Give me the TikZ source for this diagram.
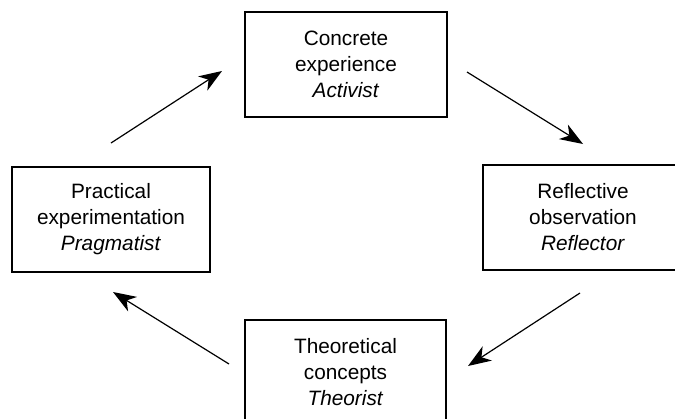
\documentclass[tikz,border=0pt]{standalone}
\usepackage{fontspec}
\setmainfont{Liberation Sans}
\usetikzlibrary{arrows.meta}
\tikzset{
  stagebox/.style={draw=black, line width=1.3pt, align=center, inner sep=0pt,
    minimum width=200pt, minimum height=105pt,
    font=\fontsize{20.8}{26}\selectfont},
  cyclearrow/.style={line width=1.2pt, -{Stealth[length=23pt,width=17pt,inset=7pt]}}
}
\begin{document}
\begin{tikzpicture}[x=1pt,y=-1pt]
\useasboundingbox (0,0) rectangle (675,418);
\clip (0,0) rectangle (675,418);
\node[stagebox, minimum width=202pt] (ce) at (346,64.5) {Concrete\\experience\\\textit{Activist}};
\node[stagebox, minimum width=198pt] (pe) at (111,219.5) {Practical\\experimentation\\\textit{Pragmatist}};
\node[stagebox, minimum width=200pt] (ro) at (583,217.5) {Reflective\\observation\\\textit{Reflector}};
\node[stagebox, minimum width=201pt] (tc) at (345.5,372.5) {Theoretical\\concepts\\\textit{Theorist}};
\coordinate (a1s) at (111,143);
\coordinate (a1e) at (222,71);
\coordinate (a2s) at (467,72);
\coordinate (a2e) at (583,144);
\coordinate (a3s) at (580,293);
\coordinate (a3e) at (468,366);
\coordinate (a4s) at (229,364);
\coordinate (a4e) at (113,292);
\draw[cyclearrow] (a1s) -- (a1e);
\draw[cyclearrow] (a2s) -- (a2e);
\draw[cyclearrow] (a3s) -- (a3e);
\draw[cyclearrow] (a4s) -- (a4e);
\end{tikzpicture}
\end{document}
